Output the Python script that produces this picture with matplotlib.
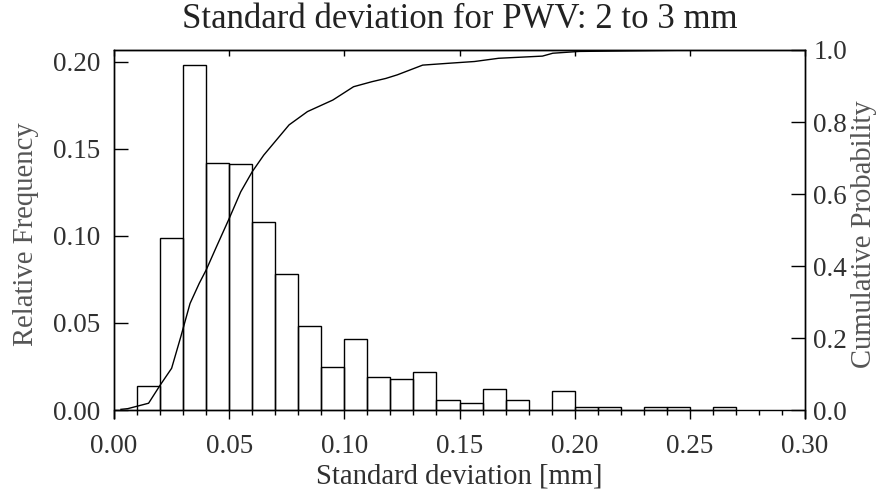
import matplotlib
matplotlib.use('Agg')
import matplotlib.pyplot as plt
import numpy as np

# histogram: bin left edges (width 0.01) and relative frequency
bin_left = [0.00, 0.01, 0.02, 0.03, 0.04, 0.05, 0.06, 0.07, 0.08, 0.09,
            0.10, 0.11, 0.12, 0.13, 0.14, 0.15, 0.16, 0.17, 0.18, 0.19,
            0.20, 0.21, 0.22, 0.23, 0.24, 0.25, 0.26]
rel_freq = [0.000, 0.014, 0.099, 0.198, 0.142, 0.141, 0.108, 0.078, 0.048, 0.025,
            0.041, 0.019, 0.018, 0.022, 0.006, 0.004, 0.012, 0.006, 0.000, 0.011,
            0.002, 0.002, 0.000, 0.002, 0.002, 0.000, 0.002]

# cumulative probability curve
cdf_x = [0.003, 0.006, 0.009, 0.015, 0.020, 0.025, 0.029, 0.033, 0.037, 0.040,
         0.0445, 0.050, 0.055, 0.060, 0.065, 0.0705, 0.076, 0.084, 0.095, 0.104,
         0.112, 0.118, 0.123, 0.134, 0.145, 0.1565, 0.167, 0.186, 0.1905, 0.202,
         0.256]
cdf_y = [0.002, 0.004, 0.009, 0.019, 0.069, 0.116, 0.204, 0.296, 0.352, 0.389,
         0.454, 0.532, 0.606, 0.662, 0.708, 0.750, 0.792, 0.829, 0.861, 0.898,
         0.912, 0.921, 0.931, 0.958, 0.963, 0.968, 0.977, 0.983, 0.991, 0.996,
         1.000]

plt.rcParams['font.family'] = 'Liberation Serif'
txt = '#303030'

fig = plt.figure(figsize=(8.84, 4.93), dpi=100)
ax = fig.add_axes([0.129, 0.152, 0.7816, 0.7466])

ax.bar(bin_left, rel_freq, width=0.01, align='edge', fill=False,
       edgecolor='black', linewidth=1.0)

ax.set_xlim(0, 0.30)
ax.set_ylim(-0.0046, 0.2067)
ax.spines['bottom'].set_position(('data', 0))

ax.set_xticks(np.arange(0, 0.301, 0.05))
ax.set_xticks(np.arange(0, 0.301, 0.01), minor=True)
ax.set_xticklabels(['%.2f' % v for v in np.arange(0, 0.301, 0.05)])
ax.set_yticks([0, 0.05, 0.10, 0.15, 0.20])
ax.set_yticklabels(['0.00', '0.05', '0.10', '0.15', '0.20'])

ax.tick_params(axis='x', which='major', direction='out', length=6.5, width=1,
               pad=11, labelsize=19.5, labelcolor=txt, top=False)
ax.tick_params(axis='x', which='minor', direction='out', length=3.6, width=1, top=False)
ax.tick_params(axis='y', which='major', direction='in', length=10, width=1,
               pad=10, labelsize=19.5, labelcolor=txt)

# top ticks pointing inward
top = ax.secondary_xaxis('top')
top.set_xticks(np.arange(0, 0.301, 0.05))
top.tick_params(direction='in', length=4.3, width=1, labeltop=False)

ax.set_xlabel('Standard deviation [mm]', fontsize=20.6, color=txt, labelpad=3)
ax.set_ylabel('Relative Frequency', fontsize=20.6, color='#555555', labelpad=10)
ax.set_title('Standard deviation for PWV: 2 to 3 mm', fontsize=25, color='#222222', pad=16)

ax2 = ax.twinx()
ax2.plot(cdf_x, cdf_y, color='black', linewidth=1.0)
ax2.set_ylim(-0.0222, 1.0)
ax2.set_yticks([0.0, 0.2, 0.4, 0.6, 0.8, 1.0])
ax2.set_yticklabels(['0.0', '0.2', '0.4', '0.6', '0.8', '1.0'])
ax2.tick_params(axis='y', direction='in', length=10, width=1, pad=6,
                labelsize=19.5, labelcolor=txt)
ax2.set_ylabel('Cumulative Probability', fontsize=20.6, color='#555555', labelpad=3)
ax2.spines['bottom'].set_visible(False)

for s in ['left', 'right', 'top', 'bottom']:
    ax.spines[s].set_linewidth(1.0)
    ax2.spines[s].set_linewidth(1.0)

fig.savefig('out.png', dpi=100)
